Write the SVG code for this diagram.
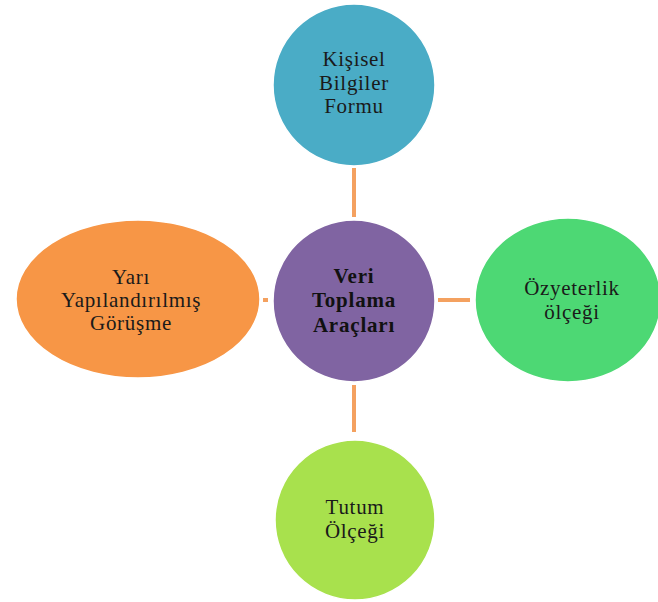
<svg xmlns="http://www.w3.org/2000/svg" width="658" height="602" viewBox="0 0 658 602">
<style>
text{font-family:"Liberation Serif","Times New Roman",serif;font-size:21px;letter-spacing:0.7px;fill:#1a1a1a;text-anchor:middle}
.b{font-weight:bold;font-size:21px;letter-spacing:0.8px;fill:#111}
.n{stroke:#ffffff;stroke-width:1.5}
.c{stroke:#F4A160;stroke-width:4;fill:none}
</style>
<rect width="658" height="602" fill="#ffffff"/>
<g id="connectors">
<line class="c" x1="354" y1="168" x2="354" y2="217"/>
<line class="c" x1="438" y1="300" x2="470" y2="300"/>
<line class="c" x1="354" y1="385" x2="354" y2="432"/>
<line class="c" x1="263" y1="300" x2="268" y2="300"/>
</g>
<g id="top">
<circle class="n" cx="354" cy="85" r="81" fill="#4AACC6"/>
<text x="354" y="66">Kişisel</text>
<text x="354" y="90">Bilgiler</text>
<text x="354" y="113">Formu</text>
</g>
<g id="center">
<circle class="n" cx="354" cy="301" r="81" fill="#8064A2"/>
<text class="b" x="354" y="283">Veri</text>
<text class="b" x="354" y="307">Toplama</text>
<text class="b" x="354" y="332">Araçları</text>
</g>
<g id="right">
<ellipse class="n" cx="568" cy="300" rx="93" ry="82" fill="#4DD874"/>
<text x="572" y="295">Özyeterlik</text>
<text x="572" y="319">ölçeği</text>
</g>
<g id="left">
<ellipse class="n" cx="138" cy="299" rx="122" ry="79" fill="#F79646"/>
<text x="131" y="284">Yarı</text>
<text x="131" y="307">Yapılandırılmış</text>
<text x="131" y="330">Görüşme</text>
</g>
<g id="bottom">
<circle class="n" cx="355" cy="520" r="80" fill="#A8E14D"/>
<text x="355" y="514">Tutum</text>
<text x="355" y="538">Ölçeği</text>
</g>
</svg>
